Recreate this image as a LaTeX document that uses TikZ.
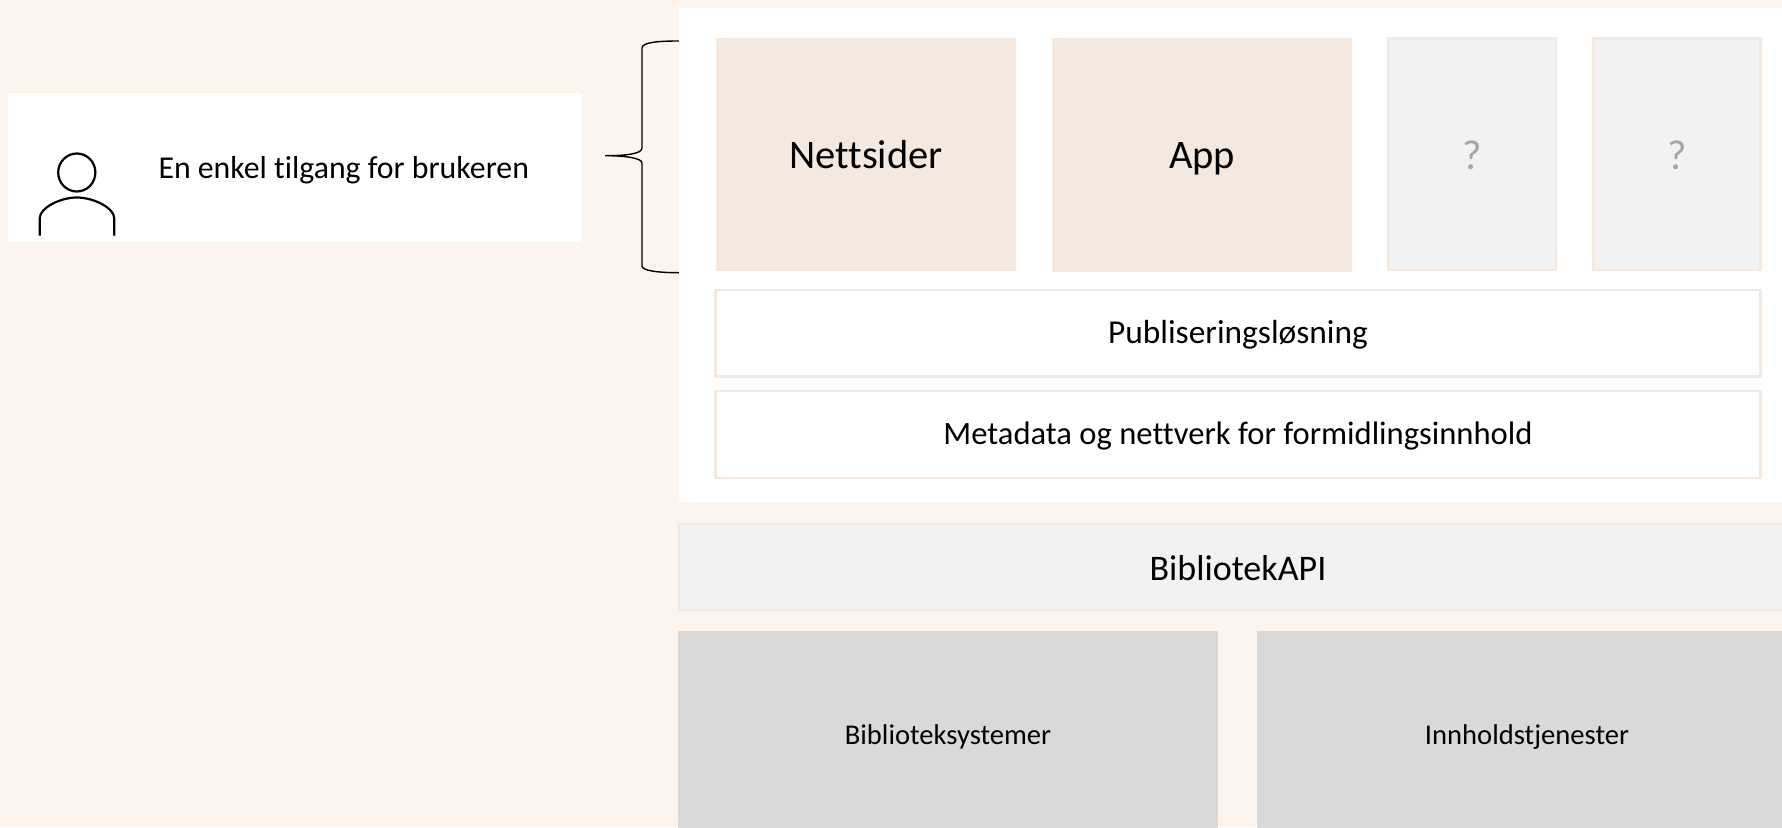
\documentclass[tikz,border=0pt]{standalone}
\usepackage{fontspec}
\setmainfont[Ligatures=NoCommon]{Carlito}
\definecolor{pagebg}{HTML}{FDF4EE}
\definecolor{edge}{HTML}{F4E8DF}
\definecolor{pale}{HTML}{F2F2F2}
\definecolor{midgray}{HTML}{D9D9D9}
\definecolor{qgray}{HTML}{A6A6A6}
\tikzset{
  panel/.style={inner sep=0pt,outer sep=0pt,align=center,text=black},
  plainwhite/.style={panel,fill=white},
  tan/.style={panel,fill=edge},
  outlined/.style={panel,fill=white,draw=edge,line width=2.5pt},
  palebox/.style={panel,fill=pale,draw=edge,line width=2.5pt},
  graybox/.style={panel,fill=midgray},
  inkline/.style={draw=black,line width=1.4pt},
  personline/.style={draw=black,line width=2.2pt}
}
% name, style, x0, y0, x1, y1, baseline y, font, text
\newcommand{\pxbox}[9]{%
  \pgfmathsetmacro{\cxx}{(#3+#5)/2}%
  \pgfmathsetmacro{\cyy}{(#4+#6)/2}%
  \pgfmathsetmacro{\ww}{#5-#3}%
  \pgfmathsetmacro{\hh}{#6-#4}%
  \pgfmathsetmacro{\tth}{2*(#7-\cyy)}%
  \node[#2,minimum width=\ww pt,minimum height=\hh pt,text height=\tth pt,text depth=0pt] (#1) at (\cxx,\cyy) {#8#9};%
}
\begin{document}
\begin{tikzpicture}[x=1pt,y=-1pt]
\useasboundingbox (0,0) rectangle (1782,827);
\clip (0,0) rectangle (1782,827);
\fill[pagebg] (0,0) rectangle (1782,827);
\pxbox{card}{plainwhite}{8}{93}{581}{242}{178}{}{}
\node[panel,anchor=base west,font=\fontsize{31.8}{36}\selectfont] (usertext) at (158.5,178) {En enkel tilgang for brukeren};
% person icon
\draw[personline] (76.8,172.5) ellipse [x radius=18.6,y radius=19];
\draw[personline] (39.8,235.5) -- (39.8,218) .. controls (39.8,208) and (60,197.5) .. (76.8,197.5) .. controls (93.6,197.5) and (114.2,208) .. (114.2,218) -- (114.2,235.5);
% brace
\draw[inkline] (679,41) .. controls (660,41) and (642,42) .. (642,48) -- (642,148) .. controls (642,154) and (625,155.7) .. (605,155.7) .. controls (625,155.7) and (642,158) .. (642,163) -- (642,266) .. controls (642,271) and (660,272.7) .. (679,272.7);
% panels
\pxbox{main}{plainwhite}{679}{8}{1798}{502}{260}{}{}
\pxbox{net}{tan}{716}{38}{1016}{270.5}{168}{\fontsize{40.5}{44}\selectfont}{Nettsider}
\pxbox{app}{tan}{1052}{38}{1352}{271.7}{168.5}{\fontsize{40.5}{44}\selectfont}{App}
\pxbox{qa}{palebox,text=qgray}{1388.7}{38.3}{1555.8}{270}{169.5}{\fontsize{42}{48}\selectfont}{?}
\pxbox{qb}{palebox,text=qgray}{1593.3}{38.3}{1760.5}{270}{169.5}{\fontsize{42}{48}\selectfont}{?}
\pxbox{pub}{outlined}{715.5}{289.9}{1760.5}{376.5}{343}{\fontsize{33.4}{38}\selectfont}{Publiseringsløsning}
\pxbox{meta}{outlined}{715.5}{390.9}{1760.5}{477.8}{444.5}{\fontsize{32.6}{38}\selectfont}{Metadata og nettverk for formidlingsinnhold}
\pxbox{api}{palebox}{678.9}{523.8}{1797}{610}{580}{\fontsize{36}{40}\selectfont}{BibliotekAPI}
\pxbox{bib}{graybox}{678}{631}{1218}{837}{744.5}{\fontsize{28.6}{32}\selectfont}{Biblioteksystemer}
\pxbox{inn}{graybox}{1257}{631}{1797}{837}{744.5}{\fontsize{28.6}{32}\selectfont}{Innholdstjenester}
\end{tikzpicture}
\end{document}
